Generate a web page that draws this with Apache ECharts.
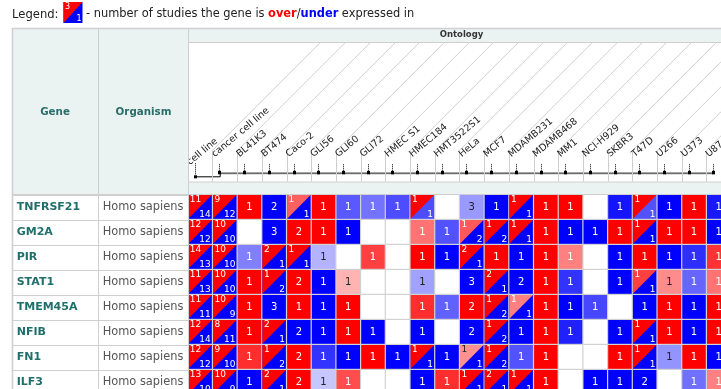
<!DOCTYPE html>
<html><head><meta charset="utf-8">
<script src="https://cdn.jsdelivr.net/npm/echarts@6/dist/echarts.min.js"></script>
<style>html,body{margin:0;padding:0;background:#fff;}#c{width:721px;height:389px;}</style>
</head><body><div id="c"></div><script>
const cellLines = ['cell line','cancer cell line','BL41K3','BT474','Caco-2','GLI56','GLI60','GLI72','HMEC S1','HMEC184','HMT3522S1','HeLa','MCF7','MDAMB231','MDAMB468','MM1','NCI-H929','SKBR3','T47D','U266','U373','U87'];
const genes = ['TNFRSF21','GM2A','PIR','STAT1','TMEM45A','NFIB','FN1','ILF3'];
const organisms = ['Homo sapiens','Homo sapiens','Homo sapiens','Homo sapiens','Homo sapiens','Homo sapiens','Homo sapiens','Homo sapiens'];
// number of studies over-expressed (rows = genes, cols = cell lines)
const overCounts = [
  [11,9,1,0,1,1,0,0,0,1,0,0,0,1,1,1,0,0,1,0,1,0],
  [12,10,0,0,2,1,0,0,0,1,0,1,1,1,1,0,0,1,1,1,1,0],
  [14,10,0,2,1,0,0,1,0,1,0,2,1,0,1,1,0,0,1,0,0,1],
  [11,10,1,1,2,0,1,0,0,0,0,0,2,0,1,0,0,0,1,1,0,1],
  [11,10,1,0,1,0,1,0,0,1,0,2,1,1,1,0,0,0,0,1,0,1],
  [12,8,1,2,0,0,1,0,0,0,0,0,1,0,1,0,0,0,1,1,0,1],
  [12,9,1,1,2,0,0,1,0,1,0,1,1,0,1,0,0,1,1,0,1,0],
  [13,10,0,2,2,0,1,0,0,0,1,1,2,1,1,0,0,0,0,0,0,1]
];
// number of studies under-expressed
const underCounts = [
  [14,12,0,2,1,0,1,1,1,1,0,3,1,1,0,0,0,1,1,1,0,1],
  [12,10,0,3,0,0,1,0,0,0,1,2,2,1,0,1,1,0,1,0,0,1],
  [13,10,1,1,1,1,0,0,0,0,1,1,0,1,0,0,0,1,0,1,1,0],
  [13,10,0,2,0,1,0,0,0,1,0,3,1,2,0,1,0,1,1,0,1,0],
  [11,9,0,3,0,1,0,0,0,0,1,0,2,1,0,1,1,0,1,0,1,0],
  [14,11,0,1,2,1,0,1,0,1,0,2,2,1,0,1,0,1,1,0,1,0],
  [12,10,0,2,0,1,1,0,1,1,1,1,2,1,0,0,0,0,1,1,0,1],
  [10,9,1,1,0,1,0,0,0,1,0,1,1,1,0,0,1,1,2,0,1,0]
];
// colour intensity (1 = full) of the over part
const overTone = [
  [1,1,1,0,0.62,1,0,0,0,1,0,0,0,1,1,1,0,0,1,0,1,0],
  [1,1,0,0,1,1,0,0,0,0.55,0,0.65,1,1,1,0,0,1,1,1,1,0],
  [1,1,0,1,1,0,0,0.75,0,1,0,1,1,0,1,0.5,0,0,1,0,0,0.8],
  [1,1,1,1,1,0,0.3,0,0,0,0,0,1,0,1,0,0,0,0.75,0.45,0,0.55],
  [1,1,1,0,1,0,1,0,0,0.82,0,1,1,0.5,1,0,0,0,0,1,0,1],
  [1,1,1,1,0,0,1,0,0,0,0,0,1,0,1,0,0,0,1,1,0,1],
  [1,1,0.82,1,1,0,0,1,0,1,0,0.43,1,0,1,0,0,1,1,0,1,0],
  [1,1,0,1,1,0,0.7,0,0,0,0.82,1,1,1,1,0,0,0,0,0,0,0.5]
];
// colour intensity (1 = full) of the under part
const underTone = [
  [1,1,0,1,1,0,0.65,0.55,0.7,0.7,0,0.4,1,1,0,0,0,0.92,0.68,1,0,0.9],
  [1,1,0,1,0,0,1,0,0,0,0.68,1,1,1,0,1,1,0,1,0,0,1],
  [1,1,0.5,1,1,0.3,0,0,0,0,1,1,0,1,0,0,0,1,0,1,0.82,0],
  [1,1,0,1,0,1,0,0,0,0.37,0,1,1,1,0,0.8,0,1,1,0,0.6,0],
  [1,1,0,1,0,1,0,0,0,0,0.62,0,1,1,0,1,0.72,0,1,0,1,0],
  [1,1,0,1,1,1,0,1,0,1,0,1,1,1,0,0.87,0,1,1,0,1,0],
  [1,1,0,1,0,0.8,1,0,1,1,1,1,1,0.68,0,0,0,0,1,0.42,0,1],
  [1,1,1,1,0,0.22,0,0,0,1,0,1,1,1,0,0,1,1,1,0,0.56,0]
];

const FONT = '"DejaVu Sans", Verdana, sans-serif';
function red(t){const v=Math.round(255*(1-t));return 'rgb(255,'+v+','+v+')';}
function blue(t){const v=Math.round(255*(1-t));return 'rgb('+v+','+v+',255)';}
function txt(t){return t < 0.46 ? '#222' : '#fff';}

const cellData = [];
genes.forEach((g, r) => {
  cellLines.forEach((c, k) => {
    cellData.push([k, r, overCounts[r][k], underCounts[r][k], overTone[r][k], underTone[r][k]]);
  });
});

function renderCell(params, api) {
  const ci = api.value(0), ri = api.value(1);
  const o = api.value(2), u = api.value(3), ot = api.value(4), ut = api.value(5);
  const c = api.coord([ci, ri]);
  const s = api.size([1, 1]);
  const x0 = c[0] - s[0] / 2, y0 = c[1] - s[1] / 2;
  const w = s[0] - 1.2, h = s[1] - 1.2;
  const x1 = x0 + w, y1 = y0 + h;
  const ch = [];
  if (o > 0 && u > 0) {
    ch.push({type:'rect', shape:{x:x0,y:y0,width:w,height:h}, style:{fill:blue(ut)}});
    ch.push({type:'polygon', shape:{points:[[x0,y0],[x1,y0],[x0,y1]]}, style:{fill:red(ot)}});
    ch.push({type:'text', style:{text:String(o), x:x0+1.5, y:y0+0.5, align:'left', verticalAlign:'top', font:'9px '+FONT, fill:txt(ot)}});
    ch.push({type:'text', style:{text:String(u), x:x1-1, y:y1+0.3, align:'right', verticalAlign:'bottom', font:'9px '+FONT, fill:txt(ut)}});
  } else if (o > 0 || u > 0) {
    const t = o > 0 ? ot : ut;
    ch.push({type:'rect', shape:{x:x0,y:y0,width:w,height:h}, style:{fill: o > 0 ? red(t) : blue(t)}});
    ch.push({type:'text', style:{text:String(o || u), x:x0+w/2, y:y0+h/2+0.5, align:'center', verticalAlign:'middle', font:'10px '+FONT, fill:txt(t)}});
  } else {
    ch.push({type:'rect', shape:{x:x0,y:y0,width:w,height:h}, style:{fill:'#fff'}});
  }
  return {type:'group', children:ch};
}

function renderHeader(params, api) {
  const i = api.value(0);
  const p = api.coord([i, 0]);
  const top = api.coord([i, 1])[1];
  const pitch = api.coord([1, 0])[0] - api.coord([0, 0])[0];
  const last = cellLines.length - 1;
  const ch = [];
  const ang = 45 * Math.PI / 180;
  if (i >= 1) {
    const b = Math.round(p[0] - 7) + 0.5;
    const ys = p[1] - 23;
    ch.push({type:'line', shape:{x1:b, y1:p[1]+8.4, x2:b, y2:ys}, style:{stroke:'#cfcfcf', lineWidth:1}});
    ch.push({type:'line', shape:{x1:b, y1:ys, x2:b + (ys - top) / Math.tan(ang), y2:top}, style:{stroke:'#cfcfcf', lineWidth:1}});
  }
  ch.push({type:'text', x: p[0] - 3, y: i === 0 ? p[1] - 6 : p[1] - 14, rotation: 40 * Math.PI / 180,
    style:{text:cellLines[i], x:0, y:0, align:'left', verticalAlign:'bottom', font:'9.5px '+FONT, fill:'#222'}});
  const x = Math.round(p[0]) + 0.5;
  if (i === 0) {
    ch.push({type:'line', shape:{x1:x, y1:p[1]-10, x2:x, y2:p[1]+2}, style:{stroke:'#000', lineWidth:1, lineDash:[1,1]}});
    ch.push({type:'line', shape:{x1:x, y1:p[1]+3.5, x2:x+pitch, y2:p[1]+3.5}, style:{stroke:'#000', lineWidth:1}});
    ch.push({type:'line', shape:{x1:x+pitch, y1:p[1]+3.5, x2:x+pitch, y2:p[1]}, style:{stroke:'#000', lineWidth:1}});
    ch.push({type:'rect', shape:{x:x-1.5, y:p[1]+2, width:3, height:3}, style:{fill:'#000'}});
  } else {
    if (i < last) {
      ch.push({type:'line', shape:{x1:x, y1:p[1], x2:x+pitch, y2:p[1]}, style:{stroke:'#6a6a6a', lineWidth:1.8}});
    }
    ch.push({type:'line', shape:{x1:x, y1:p[1]-9, x2:x, y2:p[1]-2}, style:{stroke:'#000', lineWidth:1, lineDash:[1,1]}});
    ch.push({type:'rect', shape:{x:x-1.5, y:p[1]-2.5, width:3, height:3.5}, style:{fill:'#000'}});
  }
  return {type:'group', children:ch};
}

const HEAD_BG = '#ebf3f2';
const LINE = '#cfcfcf';
function hline(x1, x2, y, w){return {type:'line', z:50, shape:{x1:x1,y1:y,x2:x2,y2:y}, style:{stroke:LINE, lineWidth:w||1}};}
function vline(x, y1, y2, w){return {type:'line', z:50, shape:{x1:x,y1:y1,x2:x,y2:y2}, style:{stroke:LINE, lineWidth:w||1}};}

const chart = echarts.init(document.getElementById('c'));
chart.setOption({
  animation: false,
  textStyle: {fontFamily: FONT},
  grid: [
    {left: 188.3, top: 195, width: 22 * 24.7, height: 200, outerBoundsMode: 'none', containLabel: false, show: true, backgroundColor: '#d2d2d2', borderWidth: 0},
    {left: 12, top: 195, width: 176.3, height: 200, outerBoundsMode: 'none', containLabel: false},
    {left: 194.7, top: 42.3, width: 21 * 24.7, height: 131, outerBoundsMode: 'none', containLabel: false}
  ],
  xAxis: [
    {gridIndex: 0, type: 'category', data: cellLines, show: false},
    {gridIndex: 1, type: 'value', show: false},
    {gridIndex: 2, type: 'category', data: cellLines, boundaryGap: false, show: false}
  ],
  yAxis: [
    {gridIndex: 0, type: 'category', data: genes, inverse: true,
     axisLine: {show: false}, axisTick: {show: false},
     axisLabel: {margin: 171.6, align: 'left', interval: 0,
       formatter: (v, idx) => '{g|' + v + '}{o|' + organisms[idx] + '}',
       rich: {
         g: {width: 86, fontFamily: FONT, fontWeight: 'bold', fontSize: 11, color: '#1f6f6c'},
         o: {fontFamily: FONT, fontSize: 11.4, color: '#555'}
       }}},
    {gridIndex: 1, type: 'category', data: genes, inverse: true,
     axisLine: {show: false}, axisTick: {show: false}, axisLabel: {show: false},
     splitLine: {show: true, lineStyle: {color: LINE, width: 1}}},
    {gridIndex: 2, type: 'value', min: 0, max: 1, show: false}
  ],
  graphic: [
    {type:'rect', z:1, shape:{x:12, y:28, width:176, height:166}, style:{fill:HEAD_BG}},
    {type:'rect', z:1, shape:{x:188, y:28, width:533, height:14}, style:{fill:HEAD_BG}},
    {type:'rect', z:1, shape:{x:188, y:182, width:533, height:12}, style:{fill:HEAD_BG}},
    hline(12, 721, 28.5, 1.6),
    hline(188, 721, 42.5),
    hline(188, 721, 182),
    hline(12, 721, 194.5),
    vline(12.5, 28, 389, 1.6),
    vline(98.5, 28, 389),
    vline(188.5, 28, 389),
    {type:'text', z:60, style:{text:'Gene', x:55, y:112, align:'center', verticalAlign:'middle', font:'bold 10.3px '+FONT, fill:'#2a6e6a'}},
    {type:'text', z:60, style:{text:'Organism', x:143.5, y:112, align:'center', verticalAlign:'middle', font:'bold 10.3px '+FONT, fill:'#2a6e6a'}},
    {type:'text', z:60, style:{text:'Ontology', x:461.5, y:35, align:'center', verticalAlign:'middle', font:'bold 8.5px '+FONT, fill:'#333'}},
    {type:'text', z:60, style:{text:'Legend:', x:12, y:14.5, align:'left', verticalAlign:'middle', font:'11.6px '+FONT, fill:'#222'}},
    {type:'rect', z:60, shape:{x:63.5, y:2, width:19, height:21}, style:{fill:'#0000ff'}},
    {type:'polygon', z:61, shape:{points:[[63.5,2],[82.5,2],[63.5,23]]}, style:{fill:'#ff0000'}},
    {type:'text', z:62, style:{text:'3', x:65, y:3, align:'left', verticalAlign:'top', font:'8px '+FONT, fill:'#fff'}},
    {type:'text', z:62, style:{text:'1', x:81.5, y:23, align:'right', verticalAlign:'bottom', font:'8px '+FONT, fill:'#fff'}},
    {type:'text', z:60, style:{
      text:'- number of studies the gene is {r|over}/{b|under} expressed in',
      x:86, y:14.5, align:'left', verticalAlign:'middle', font:'11.4px '+FONT, fill:'#222',
      rich:{
        r:{fontWeight:'bold', fontSize:11.4, fontFamily:FONT, fill:'#ff0000'},
        b:{fontWeight:'bold', fontSize:11.4, fontFamily:FONT, fill:'#0000ff'}
      }}}
  ],
  series: [
    {type: 'custom', name: 'cells', xAxisIndex: 0, yAxisIndex: 0, data: cellData,
     encode: {x: 0, y: 1}, renderItem: renderCell, z: 5},
    {type: 'custom', name: 'ontology', xAxisIndex: 2, yAxisIndex: 2,
     data: cellLines.map((n, i) => [i, 0]), encode: {x: 0, y: 1}, renderItem: renderHeader, z: 5}
  ]
});
</script></body></html>
